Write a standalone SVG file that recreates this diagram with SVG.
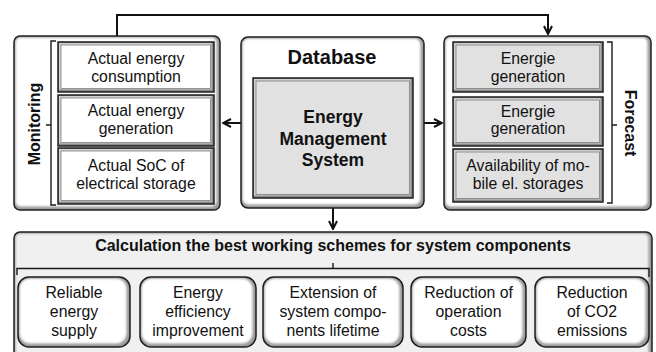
<svg xmlns="http://www.w3.org/2000/svg" width="656" height="352" viewBox="0 0 656 352">
  <defs>
    <style>
      .t { font-family: "Liberation Sans", Arial, sans-serif; font-size: 15.8px; fill: #111; text-anchor: middle; }
      .b { font-weight: bold; }
      .s16 { font-size: 16px; }
      .s17 { font-size: 17.5px; }
      .s20 { font-size: 20px; }
      .shd { fill: #9a9a9a; }
      .face { fill: #ffffff; }
      .faceg { fill: #f0f0f0; }
      .edge { fill: none; stroke: #1f1f1f; stroke-width: 1.5; }
      .sqsh { fill: #8a8a8a; }
      .sqhl { fill: #d2d2d2; }
      .sqw { fill: #ffffff; stroke: #6e6e6e; stroke-width: 0.7; }
      .sqg { fill: #e1e1e1; stroke: #6e6e6e; stroke-width: 0.7; }
      .brk { fill: none; stroke: #1a1a1a; stroke-width: 1.4; }
      .con { fill: none; stroke: #111; stroke-width: 2; }
    </style>
    <filter id="soft" x="-5%" y="-5%" width="110%" height="110%">
      <feGaussianBlur stdDeviation="1.1"/>
    </filter>
    <marker id="arr" viewBox="0 0 10 10" refX="9" refY="5" markerWidth="10" markerHeight="10" markerUnits="userSpaceOnUse" orient="auto">
      <path d="M1,1 L9,5 L1,9" fill="none" stroke="#111" stroke-width="2"/>
    </marker>
  </defs>

  <!-- connectors -->
  <g id="connectors">
    <path class="con" d="M117,36 V15 H548 V34" marker-end="url(#arr)"/>
    <path class="con" d="M241,123 H223" marker-end="url(#arr)"/>
    <path class="con" d="M424,123 H442" marker-end="url(#arr)"/>
    <path class="con" d="M333,208 V229" marker-end="url(#arr)"/>
  </g>

  <!-- Monitoring block -->
  <g id="monitoring">
    <rect class="shd" x="14" y="36" width="206" height="174" rx="6"/>
    <rect class="face" x="15.5" y="37.5" width="201" height="169" rx="5" filter="url(#soft)"/>
    <rect class="edge" x="14" y="36" width="206" height="174" rx="6"/>
    <path class="brk" d="M56,41 H51 V205 H56 M51,125 H46"/>
    <text class="t b s16" transform="translate(40,124) rotate(-90)">Monitoring</text>

    <g id="mon-consumption">
      <rect class="sqsh" x="58" y="42" width="156" height="50"/>
      <rect class="sqhl" x="59" y="43" width="152.5" height="46.5"/>
      <rect class="sqw" x="61" y="45" width="149.5" height="43.5"/>
      <rect class="edge" x="58" y="42" width="156" height="50"/>
      <text class="t" x="136" y="64">Actual energy</text>
      <text class="t" x="136" y="82">consumption</text>
    </g>
    <g id="mon-generation">
      <rect class="sqsh" x="58" y="95" width="156" height="51"/>
      <rect class="sqhl" x="59" y="96" width="152.5" height="47.5"/>
      <rect class="sqw" x="61" y="98" width="149.5" height="44.5"/>
      <rect class="edge" x="58" y="95" width="156" height="51"/>
      <text class="t" x="136" y="116">Actual energy</text>
      <text class="t" x="136" y="134">generation</text>
    </g>
    <g id="mon-soc">
      <rect class="sqsh" x="58" y="148" width="156" height="56"/>
      <rect class="sqhl" x="59" y="149" width="152.5" height="52.5"/>
      <rect class="sqw" x="61" y="151" width="149.5" height="49.5"/>
      <rect class="edge" x="58" y="148" width="156" height="56"/>
      <text class="t" x="136" y="171">Actual SoC of</text>
      <text class="t" x="136" y="189">electrical storage</text>
    </g>
  </g>

  <!-- Database block -->
  <g id="database">
    <rect class="shd" x="241" y="37" width="183" height="171" rx="7"/>
    <rect class="face" x="242.5" y="38.5" width="178" height="166" rx="6" filter="url(#soft)"/>
    <rect class="edge" x="241" y="37" width="183" height="171" rx="7"/>
    <text class="t b s20" x="332" y="64">Database</text>
    <g id="ems">
      <rect class="sqsh" x="253" y="78" width="160" height="120"/>
      <rect class="sqhl" x="254" y="79" width="156.5" height="116.5"/>
      <rect class="sqg" x="256" y="81" width="153.5" height="113.5"/>
      <rect class="edge" x="253" y="78" width="160" height="120"/>
      <text class="t b s17" x="333" y="123">Energy</text>
      <text class="t b s17" x="333" y="144.5">Management</text>
      <text class="t b s17" x="333" y="166">System</text>
    </g>
  </g>

  <!-- Forecast block -->
  <g id="forecast">
    <rect class="shd" x="444" y="36" width="207" height="174" rx="6"/>
    <rect class="face" x="445.5" y="37.5" width="202" height="169" rx="5" filter="url(#soft)"/>
    <rect class="edge" x="444" y="36" width="207" height="174" rx="6"/>
    <path class="brk" d="M607,42 H612 V203 H607 M612,125 H617"/>
    <text class="t b s16" transform="translate(625,123) rotate(90)">Forecast</text>

    <g id="fc-generation-1">
      <rect class="sqsh" x="453" y="42" width="150" height="50"/>
      <rect class="sqhl" x="454" y="43" width="146.5" height="46.5"/>
      <rect class="sqg" x="456" y="45" width="143.5" height="43.5"/>
      <rect class="edge" x="453" y="42" width="150" height="50"/>
      <text class="t" x="528" y="64">Energie</text>
      <text class="t" x="528" y="82">generation</text>
    </g>
    <g id="fc-generation-2">
      <rect class="sqsh" x="453" y="97" width="150" height="49"/>
      <rect class="sqhl" x="454" y="98" width="146.5" height="45.5"/>
      <rect class="sqg" x="456" y="100" width="143.5" height="42.5"/>
      <rect class="edge" x="453" y="97" width="150" height="49"/>
      <text class="t" x="528" y="117">Energie</text>
      <text class="t" x="528" y="134">generation</text>
    </g>
    <g id="fc-mobile-storage">
      <rect class="sqsh" x="453" y="149" width="150" height="53"/>
      <rect class="sqhl" x="454" y="150" width="146.5" height="49.5"/>
      <rect class="sqg" x="456" y="152" width="143.5" height="46.5"/>
      <rect class="edge" x="453" y="149" width="150" height="53"/>
      <text class="t" x="528" y="171">Availability of mo-</text>
      <text class="t" x="528" y="189">bile el. storages</text>
    </g>
  </g>

  <!-- Calculation block -->
  <g id="calculation">
    <rect class="shd" x="14" y="232" width="638" height="140" rx="6"/>
    <rect class="faceg" x="15.5" y="233.5" width="633" height="135" rx="5" filter="url(#soft)"/>
    <rect class="edge" x="14" y="232" width="638" height="140" rx="6"/>
    <text class="t b s16" x="333" y="251">Calculation the best working schemes for system components</text>
    <path class="brk" d="M17,275 V268.5 H649 V277 M333,268.5 V263"/>

    <g id="goal-reliable">
      <rect class="shd" x="18" y="277" width="112" height="70" rx="11"/>
      <rect class="face" x="19.5" y="278.5" width="107" height="65" rx="10" filter="url(#soft)"/>
      <rect class="edge" x="18" y="277" width="112" height="70" rx="11"/>
      <text class="t" x="74" y="298">Reliable</text>
      <text class="t" x="74" y="317">energy</text>
      <text class="t" x="74" y="336">supply</text>
    </g>
    <g id="goal-efficiency">
      <rect class="shd" x="140" y="277" width="116" height="70" rx="11"/>
      <rect class="face" x="141.5" y="278.5" width="111" height="65" rx="10" filter="url(#soft)"/>
      <rect class="edge" x="140" y="277" width="116" height="70" rx="11"/>
      <text class="t" x="198" y="298">Energy</text>
      <text class="t" x="198" y="317">efficiency</text>
      <text class="t" x="198" y="336">improvement</text>
    </g>
    <g id="goal-lifetime">
      <rect class="shd" x="263" y="277" width="140" height="70" rx="11"/>
      <rect class="face" x="264.5" y="278.5" width="135" height="65" rx="10" filter="url(#soft)"/>
      <rect class="edge" x="263" y="277" width="140" height="70" rx="11"/>
      <text class="t" x="333" y="298">Extension of</text>
      <text class="t" x="333" y="317">system compo-</text>
      <text class="t" x="333" y="336">nents lifetime</text>
    </g>
    <g id="goal-costs">
      <rect class="shd" x="411" y="277" width="115" height="70" rx="11"/>
      <rect class="face" x="412.5" y="278.5" width="110" height="65" rx="10" filter="url(#soft)"/>
      <rect class="edge" x="411" y="277" width="115" height="70" rx="11"/>
      <text class="t" x="468.5" y="298">Reduction of</text>
      <text class="t" x="468.5" y="317">operation</text>
      <text class="t" x="468.5" y="336">costs</text>
    </g>
    <g id="goal-co2">
      <rect class="shd" x="535" y="277" width="114" height="70" rx="11"/>
      <rect class="face" x="536.5" y="278.5" width="109" height="65" rx="10" filter="url(#soft)"/>
      <rect class="edge" x="535" y="277" width="114" height="70" rx="11"/>
      <text class="t" x="592" y="298">Reduction</text>
      <text class="t" x="592" y="317">of CO2</text>
      <text class="t" x="592" y="336">emissions</text>
    </g>
  </g>
</svg>
